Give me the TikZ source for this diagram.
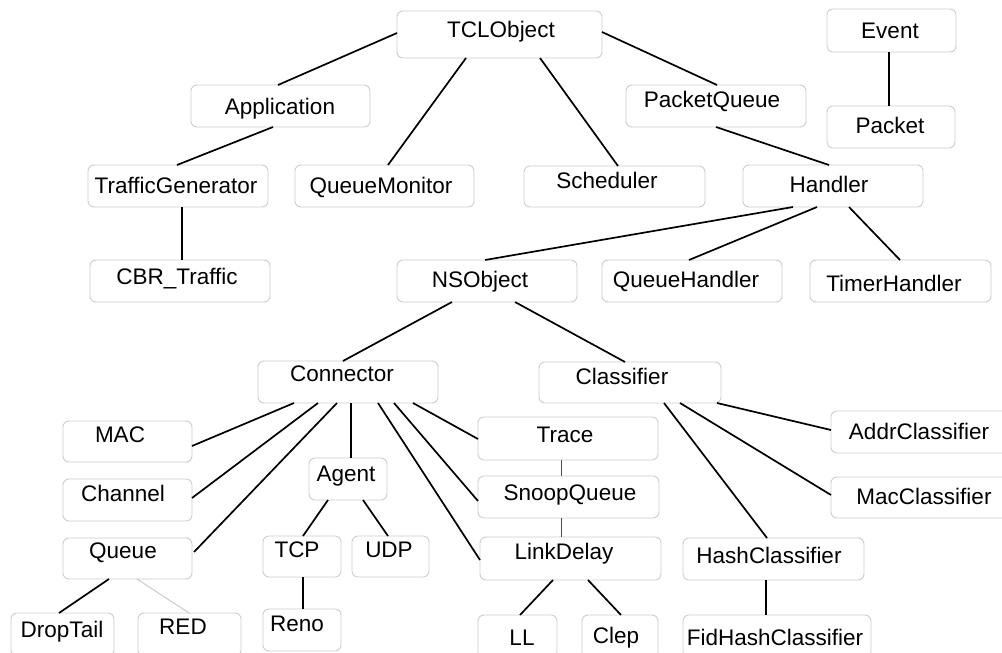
\documentclass[tikz,border=0pt]{standalone}
\usepackage{fontspec}
\setmainfont[Ligatures={NoCommon}]{Liberation Sans}
\definecolor{boxgray}{RGB}{205,205,205}
% one class box: name, left, top, right, bottom, label, label x, label baseline
\newcommand\klass[8]{%
  \node[cbox, minimum width={#4-#2}, minimum height={#5-#3}] (#1) at ({(#2+#4)/2},{(#3+#5)/2}) {};
  \node[lbl] (#1-t) at (#7,#8) {#6};}
\begin{document}
\begin{tikzpicture}[x=1pt,y=-1pt,
  cbox/.style={draw=boxgray, line width=0.9pt, rounded corners=6pt, inner sep=0pt, outer sep=0pt, fill=white},
  lbl/.style={anchor=base, inner sep=0pt, text=black, font=\fontsize{22.5}{27}\selectfont},
  link/.style={line width=1.7pt, black},
  thinlink/.style={line width=0.9pt, black!70},
  palelink/.style={line width=0.9pt, black!22}]
\useasboundingbox (0,0) rectangle (1002,653);
\clip (0,0) rectangle (1002,653);
\fill[white] (0,0) rectangle (1002,653);

% class boxes
\klass{tcl}{397}{11}{602}{58}{TCLObject}{501}{37}
\klass{app}{191}{85}{370}{127}{Application}{280}{114}
\klass{tg}{88}{165}{268}{207}{TrafficGenerator}{176}{193}
\klass{qm}{295}{165}{474}{207}{QueueMonitor}{381}{193}
\klass{cbr}{90}{260}{270}{302}{CBR\_Traffic}{177}{284}
\klass{nso}{397}{260}{577}{302}{NSObject}{480}{287}
\klass{evt}{827}{9}{956}{52}{Event}{890}{38}
\klass{pq}{626}{85}{806}{127}{PacketQueue}{712}{107}
\klass{pkt}{827}{106}{955}{148}{Packet}{890}{133}
\klass{sch}{524}{166}{705}{207}{Scheduler}{607}{188}
\klass{hdl}{743}{165}{923}{207}{Handler}{829}{192}
\klass{qh}{602}{260}{782}{302}{QueueHandler}{686}{287}
\klass{th}{810}{260}{991}{302}{TimerHandler}{894}{291}
\klass{con}{258}{361}{438}{403}{Connector}{342}{381}
\klass{mac}{63}{421}{192}{462}{MAC}{120}{442}
\klass{chn}{63}{479}{192}{521}{Channel}{123}{501}
\klass{que}{63}{538}{192}{579}{Queue}{123}{558}
\klass{agt}{309}{458}{387}{500}{Agent}{346}{481}
\klass{tcp}{263}{536}{341}{577}{TCP}{297}{557}
\klass{udp}{352}{536}{429}{577}{UDP}{389}{557}
\klass{dt}{11}{613}{114}{656}{DropTail}{62}{637}
\klass{red}{138}{613}{241}{656}{RED}{183}{634}
\klass{reno}{263}{609}{341}{651}{Reno}{297}{631}
\klass{cls}{539}{362}{721}{403}{Classifier}{622}{384}
\klass{trc}{478}{417}{658}{460}{Trace}{565}{442}
\klass{snp}{478}{476}{659}{518}{SnoopQueue}{570}{500}
\klass{ld}{480}{537}{661}{580}{LinkDelay}{564}{559}
\klass{hc}{683}{538}{864}{580}{HashClassifier}{769}{563}
\klass{adr}{831}{411}{1012}{453}{AddrClassifier}{919}{439}
\klass{macc}{831}{477}{1012}{518}{MacClassifier}{924}{504}
\klass{ll}{478}{615}{557}{658}{LL}{522}{645}
\klass{clp}{582}{615}{658}{658}{Clep}{616}{643}
\klass{fid}{683}{615}{871}{658}{FidHashClassifier}{775}{645}

% inheritance links
\draw[link] ([yshift=-22pt]tcl.north west) -- ([xshift=87pt]app.north west);
\draw[link] ([xshift=82pt,yshift=-42pt]app.north west) -- ([xshift=89pt]tg.north west);
\draw[link] ([xshift=69pt,yshift=-47pt]tcl.north west) -- ([xshift=93pt]qm.north west);
\draw[link] ([xshift=94pt,yshift=-42pt]tg.north west) -- ([xshift=92pt]cbr.north west);
\draw[link] ([xshift=205pt,yshift=-21pt]tcl.north west) -- ([xshift=91pt]pq.north west);
\draw[link] ([xshift=143pt,yshift=-47pt]tcl.north west) -- ([xshift=94pt]sch.north west);
\draw[link] ([xshift=62pt,yshift=-43pt]evt.north west) -- ([xshift=62pt]pkt.north west);
\draw[link] ([xshift=90pt,yshift=-42pt]pq.north west) -- ([xshift=86pt]hdl.north west);
\draw[link] ([xshift=50pt,yshift=-42pt]hdl.north west) -- ([xshift=88pt]nso.north west);
\draw[link] ([xshift=74pt,yshift=-42pt]hdl.north west) -- ([xshift=87pt]qh.north west);
\draw[link] ([xshift=106pt,yshift=-42pt]hdl.north west) -- ([xshift=90pt]th.north west);
\draw[link] ([xshift=55pt,yshift=-42pt]nso.north west) -- ([xshift=85pt]con.north west);
\draw[link] ([xshift=118pt,yshift=-42pt]nso.north west) -- ([xshift=86pt]cls.north west);
\draw[link] ([xshift=36pt,yshift=-42pt]con.north west) -- ([xshift=129pt,yshift=-25pt]mac.north west);
\draw[link] ([xshift=60pt,yshift=-42pt]con.north west) -- ([xshift=129pt,yshift=-19pt]chn.north west);
\draw[link] ([xshift=79pt,yshift=-42pt]con.north west) -- ([xshift=131pt,yshift=-14pt]que.north west);
\draw[link] ([xshift=93pt,yshift=-42pt]con.north west) -- ([xshift=42pt]agt.north west);
\draw[link] ([xshift=120pt,yshift=-42pt]con.north west) -- ([yshift=-23pt]ld.north west);
\draw[link] ([xshift=136pt,yshift=-42pt]con.north west) -- ([yshift=-25pt]snp.north west);
\draw[link] ([xshift=155pt,yshift=-42pt]con.north west) -- ([yshift=-22pt]trc.north west);
\draw[link] ([xshift=19pt,yshift=-42pt]agt.north west) -- ([xshift=40pt]tcp.north west);
\draw[link] ([xshift=54pt,yshift=-42pt]agt.north west) -- ([xshift=36pt]udp.north west);
\draw[link] ([xshift=46pt,yshift=-41pt]que.north west) -- ([xshift=48pt]dt.north west);
\draw[palelink] ([xshift=74pt,yshift=-41pt]que.north west) -- ([xshift=51pt]red.north west);
\draw[link] ([xshift=40pt,yshift=-41pt]tcp.north west) -- ([xshift=40pt]reno.north west);
\draw[link] ([xshift=178pt,yshift=-41pt]cls.north west) -- ([yshift=-19pt]adr.north west);
\draw[link] ([xshift=141pt,yshift=-41pt]cls.north west) -- ([yshift=-18pt]macc.north west);
\draw[link] ([xshift=125pt,yshift=-41pt]cls.north west) -- ([xshift=84pt]hc.north west);
\draw[thinlink] ([xshift=83pt,yshift=-43pt]trc.north west) -- ([xshift=83pt]snp.north west);
\draw[thinlink] ([xshift=83pt,yshift=-42pt]snp.north west) -- ([xshift=81pt]ld.north west);
\draw[link] ([xshift=73pt,yshift=-43pt]ld.north west) -- ([xshift=42pt]ll.north west);
\draw[link] ([xshift=108pt,yshift=-43pt]ld.north west) -- ([xshift=39pt]clp.north west);
\draw[link] ([xshift=83pt,yshift=-42pt]hc.north west) -- ([xshift=83pt]fid.north west);
\end{tikzpicture}
\end{document}
